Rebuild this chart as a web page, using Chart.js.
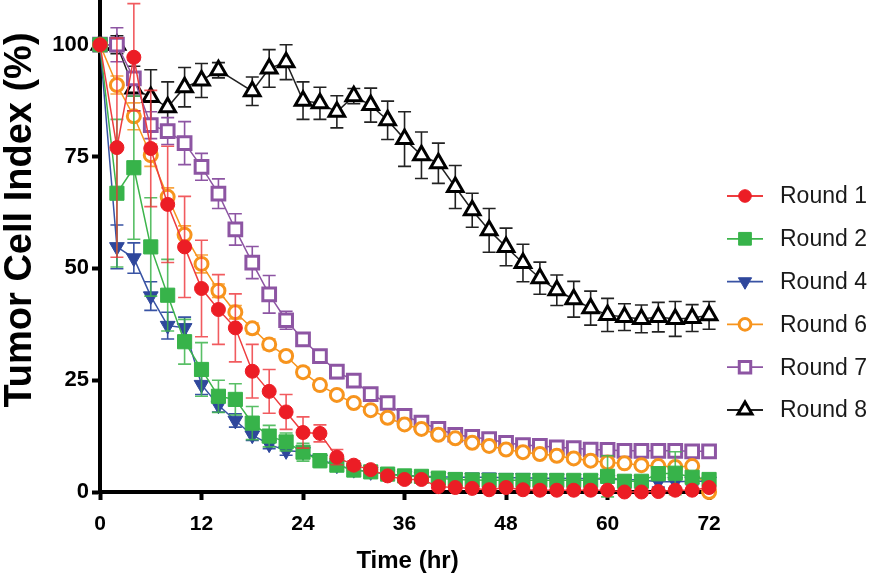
<!DOCTYPE html>
<html><head><meta charset="utf-8">
<script src="https://cdn.jsdelivr.net/npm/chart.js@4.4.1/dist/chart.umd.min.js"></script>
<style>html,body{margin:0;padding:0;background:#fff;}#wrap{width:874px;height:580px;}</style>
</head><body><div id="wrap"><canvas id="c" width="874" height="580"></canvas></div>
<script>
const hours = [0,2,4,6,8,10,12,14,16,18,20,22,24,26,28,30,32,34,36,38,40,42,44,46,48,50,52,54,56,58,60,62,64,66,68,70,72];
const xTickValues = [0,12,24,36,48,60,72];
const yTickValues = [0,25,50,75,100];
const seriesNames = ['Round 1','Round 2','Round 4','Round 6','Round 7','Round 8'];

const round1 = [100,77,97.2,76.8,64.3,54.8,45.5,40.8,36.7,27,22.5,17.9,13.3,13.1,7.8,6,5,3.6,2.8,2.8,1.2,1,0.8,0.5,1,0.5,0.4,0.4,0.4,0.4,0.4,0,0,0.1,0.4,0.4,1];
const round1Err = [0,24.5,12,13,13,11.3,10.8,7.8,7.6,6,4.9,3.9,3.5,1.9,1.7,1,0.8,0.6,0.5,0.5,0.4,0.4,0.4,0.3,0.3,0.3,0.3,0.3,0.3,0.3,0.3,0.3,0.3,0.3,0.3,0.3,0.3];
const round2 = [100,66.8,72.5,54.8,44,33.6,27.4,21.4,20.7,15.4,12.5,11.2,8.9,7,6,4.9,4.5,4,3.6,3.5,3.1,2.8,2.7,2.6,2.6,2.6,2.6,2.6,2.6,2.6,3.5,2.4,2.4,4.1,4.2,3.3,2.8];
const round2Err = [0,16.5,16,11,8,5,6,3.6,3.5,3.7,2.4,2,2,1.5,1.2,1,1,0.8,0.8,0.7,0.7,0.6,0.6,0.6,0.6,0.6,0.6,0.6,0.6,0.6,4.6,0.8,0.8,1.5,4.8,1.2,0.8];
const round4 = [100,54.8,52.3,43.8,37.2,36.7,24,19.4,16,12.7,10.7,9.2,9,7.3,6,5,4.5,4,3.7,3.5,3.4,3.3,3.3,3.3,3.2,3.2,3.1,3.1,3,3,2.8,2.8,2.7,2.3,2.3,2.4,2.4];
const round4Err = [0,4.9,3.4,3.2,3,2.4,2.2,1.5,1.5,1.2,1,1,1,0.9,0.8,0.8,0.8,0.8,0.8,0.8,0.8,0.8,0.8,0.8,0.8,0.8,0.8,0.8,0.8,0.8,0.8,0.8,0.8,1.2,1.5,0.8,0.8];
const round6 = [100,91,84,75.3,66,57.5,51,45,40.2,36.6,33,30.4,26.8,23.9,21.7,19.9,18.3,16.6,15.1,14.1,12.8,12,11,10.3,9.5,8.9,8.5,8.1,7.5,7,6.6,6.4,6,5.8,5.6,5.8,0];
const round6Err = [0,2,3,2.5,2,2,2,1.5,1.5,1.2,1.2,1,1,1,0.8,0.8,0.8,0.8,0.7,0.7,0.7,0.6,0.6,0.6,0.6,0.6,0.6,0.6,0.6,0.6,0.6,0.6,0.6,0.6,0.6,0.6,0.6];
const round7 = [100,100,92.5,82,80.7,78,72.7,66.7,58.7,51.3,44.2,38.4,34.1,30.4,26.9,24.9,21.9,19.9,17,15.5,14.1,12.8,12.3,11.8,11,10.5,10.3,10,9.8,9.5,9.4,9.2,9.2,9.2,9.2,9.1,9.1];
const round7Err = [0,3.8,4,3,3,4.8,3,3.3,3.5,3.6,4.2,2,1.5,1.2,1.5,1.2,1,1,1,0.8,0.8,0.7,0.7,0.7,0.6,0.6,0.6,0.6,0.6,0.6,0.6,0.6,0.6,0.6,0.6,0.6,0.6];
const round8 = [100,100,90.2,88.3,86,90.5,92,94.3,null,89.6,94.7,96.1,87.5,86.9,85,88.5,86.5,83.1,78.9,75.3,73.5,68.2,63,58.5,54.8,51.2,47.8,45.1,43.1,41.1,39.6,39.1,38.7,39.1,38.7,38.9,39.5];
const round8Err = [0,2,5,6.1,5.7,4.4,3.8,1.7,0,3.2,4.2,3.9,4.2,3.6,3.6,1.7,3.8,4.3,6.1,5.2,4.5,4.8,3.8,4.9,4.2,4.2,3.6,3.4,4,3.8,3.7,3,3.1,3.3,3.9,3,3.1];

const FONT = "'Liberation Sans', Arial, Helvetica, sans-serif";

function pts(vals){ return hours.map((h,i)=>({x:h, y:vals[i]})); }

function mkDs(label, vals, errs, o){
  return {
    label, data: pts(vals), errors: errs, errorColor: o.err,
    borderColor: o.line, borderWidth: 1.5, tension: 0, fill: false, clip: false, spanGaps: true,
    pointStyle: o.style, pointRotation: o.rot || 0, pointRadius: o.r,
    pointBackgroundColor: o.bg, pointBorderColor: o.color, pointBorderWidth: o.bw,
    pointHoverRadius: o.r
  };
}

const datasets = [
  mkDs(seriesNames[0], round1, round1Err, {line:'#ee3d3f', color:'#ec1d25', bg:'#ec1d25', style:'circle', r:7, bw:1, err:'rgba(238,50,55,0.8)'}),
  mkDs(seriesNames[1], round2, round2Err, {line:'#3cb44b', color:'#37b34a', bg:'#37b34a', style:'rect', r:10, bw:1, err:'rgba(60,180,75,0.85)'}),
  mkDs(seriesNames[2], round4, round4Err, {line:'#3853a4', color:'#2f479c', bg:'#2f479c', style:'triangle', rot:180, r:8.5, bw:1, err:'#3853a4'}),
  mkDs(seriesNames[3], round6, round6Err, {line:'#f7941d', color:'#f7941d', bg:'#ffffff', style:'circle', r:6.5, bw:3, err:'rgba(247,148,29,0.85)'}),
  mkDs(seriesNames[4], round7, round7Err, {line:'#8d55a3', color:'#8d55a3', bg:'#ffffff', style:'rect', r:9, bw:3, err:'#8d55a3'}),
  mkDs(seriesNames[5], round8, round8Err, {line:'#222222', color:'#000000', bg:'#ffffff', style:'triangle', r:9, bw:3, err:'#222222'})
];

const errorBars = {
  id: 'errorBars',
  beforeDatasetDraw(chart, args){
    const ds = chart.data.datasets[args.index];
    if (!ds.errors) return;
    const ctx = chart.ctx, ys = chart.scales.y;
    ctx.save();
    ctx.strokeStyle = ds.errorColor;
    ctx.lineWidth = 1.6;
    args.meta.data.forEach((p, i) => {
      const v = ds.data[i].y, e = ds.errors[i];
      if (v === null || !e) return;
      const x = p.x, t = ys.getPixelForValue(v + e), b = ys.getPixelForValue(v - e);
      ctx.beginPath();
      ctx.moveTo(x, t); ctx.lineTo(x, b);
      ctx.moveTo(x - 6.5, t); ctx.lineTo(x + 6.5, t);
      ctx.moveTo(x - 6.5, b); ctx.lineTo(x + 6.5, b);
      ctx.stroke();
    });
    ctx.restore();
  }
};

function drawMarker(ctx, style, x, y, r, rot){
  ctx.beginPath();
  if (style === 'circle') {
    ctx.arc(x, y, r, 0, Math.PI*2);
  } else if (style === 'rect') {
    const s = r * Math.SQRT1_2;
    ctx.rect(x - s, y - s, 2*s, 2*s);
  } else {
    let a = (rot || 0) * Math.PI / 180;
    for (let k = 0; k < 3; k++) {
      const px = x + Math.sin(a) * r, py = y - Math.cos(a) * r;
      if (k === 0) ctx.moveTo(px, py); else ctx.lineTo(px, py);
      a += 2*Math.PI/3;
    }
    ctx.closePath();
  }
}

const sideLegend = {
  id: 'sideLegend',
  afterDraw(chart){
    const ctx = chart.ctx;
    const ca = chart.chartArea;
    const x1 = ca.right + 12, x2 = ca.right + 48, mx = ca.right + 30, tx = ca.right + 65;
    const y0 = 196, step = 42.8;
    chart.data.datasets.forEach((ds, i) => {
      const y = y0 + i*step;
      ctx.save();
      ctx.strokeStyle = ds.borderColor; ctx.lineWidth = 1.8;
      ctx.beginPath(); ctx.moveTo(x1, y); ctx.lineTo(x2, y); ctx.stroke();
      drawMarker(ctx, ds.pointStyle, mx, y, ds.pointRadius*0.9, ds.pointRotation);
      ctx.fillStyle = ds.pointBackgroundColor; ctx.fill();
      ctx.strokeStyle = ds.pointBorderColor; ctx.lineWidth = ds.pointBorderWidth; ctx.stroke();
      ctx.fillStyle = '#1a1a1a';
      ctx.font = "23px " + FONT;
      ctx.textBaseline = 'middle'; ctx.textAlign = 'left';
      ctx.fillText(ds.label, tx, y + 1);
      ctx.restore();
    });
    // y axis title
    ctx.save();
    ctx.translate(21, 220);
    ctx.rotate(-Math.PI/2);
    ctx.fillStyle = '#000';
    ctx.font = "bold 38px " + FONT;
    ctx.textAlign = 'center'; ctx.textBaseline = 'middle';
    ctx.fillText('Tumor Cell Index (%)', 0, 0);
    ctx.restore();
  }
};

new Chart(document.getElementById('c'), {
  type: 'line',
  data: { datasets },
  plugins: [errorBars, sideLegend],
  options: {
    responsive: false, animation: false, events: [],
    layout: { autoPadding: false, padding: { left: 0, right: 159, top: 0, bottom: 0 } },
    plugins: { legend: { display: false }, tooltip: { enabled: false } },
    scales: {
      x: {
        type: 'linear', min: 0, max: 72.7,
        afterBuildTicks: s => { s.ticks = xTickValues.map(v => ({ value: v })); },
        afterFit: s => { s.height = 88; s.paddingLeft = 0; s.paddingRight = 0; },
        ticks: { autoSkip: false, maxRotation: 0, color: '#000', padding: 12, font: { family: FONT, size: 21, weight: 'bold' } },
        grid: { drawOnChartArea: false, tickLength: 8, tickWidth: 4, tickColor: '#000' },
        border: { width: 4, color: '#000' },
        title: { display: true, text: 'Time (hr)', color: '#000', font: { family: FONT, size: 24, weight: 'bold' }, padding: { top: 0, bottom: 4 } }
      },
      y: {
        min: 0, max: 110,
        afterBuildTicks: s => { s.ticks = yTickValues.map(v => ({ value: v })); },
        afterFit: s => { s.width = 100; s.paddingTop = 0; s.paddingBottom = 0; },
        ticks: { color: '#000', padding: 3, font: { family: FONT, size: 22, weight: 'bold' } },
        grid: { drawOnChartArea: false, tickLength: 8, tickWidth: 4, tickColor: '#000' },
        border: { width: 4, color: '#000' }
      }
    }
  }
});
</script>
</body></html>
